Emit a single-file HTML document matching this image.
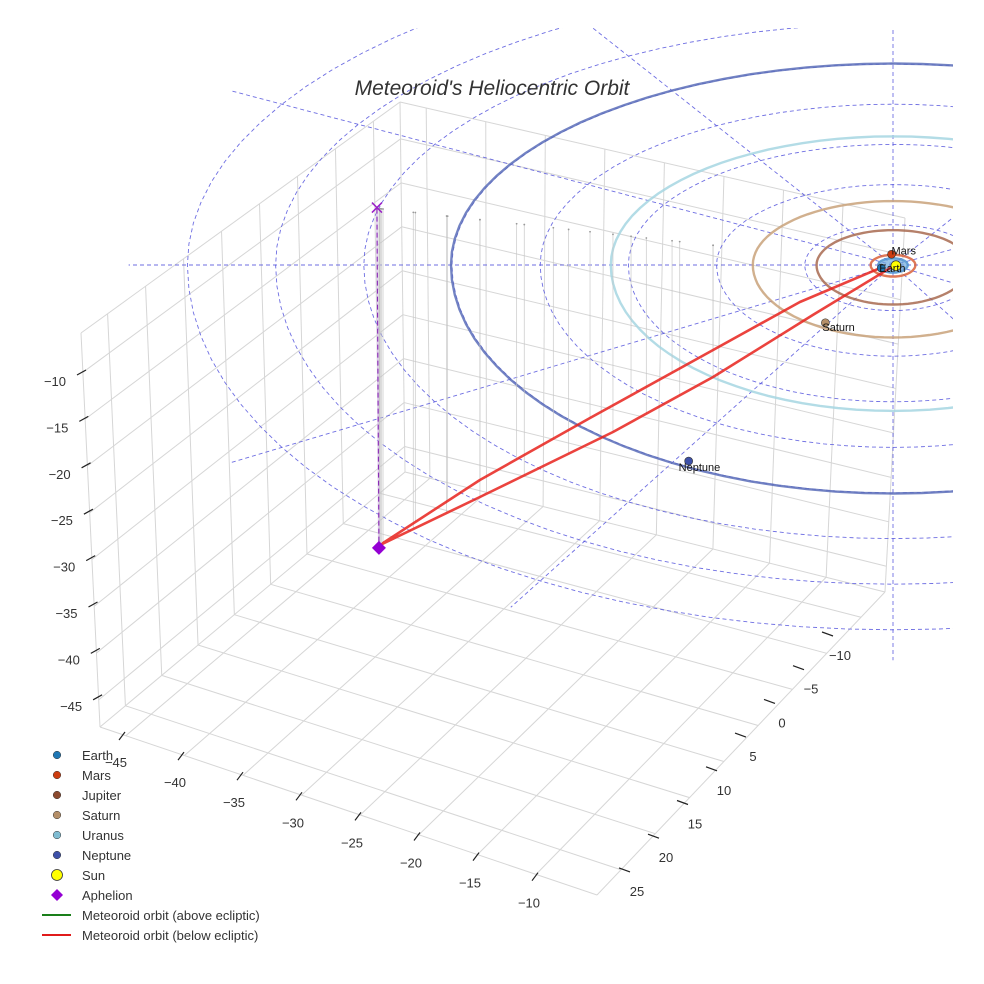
<!DOCTYPE html>
<html><head><meta charset="utf-8">
<style>
html,body{margin:0;padding:0;background:#fff;}
svg{display:block;font-family:"Liberation Sans",sans-serif;}
</style></head>
<body>
<svg id="chart" width="984" height="984" viewBox="0 0 984 984" xmlns="http://www.w3.org/2000/svg">
<defs><clipPath id="ecl"><rect x="0" y="28" width="953" height="956"/></clipPath></defs>
<g id="grid"></g>
<g id="ticks"></g>
<g id="eclip" clip-path="url(#ecl)"></g>
<g id="orbits" clip-path="url(#ecl)"></g>
<g id="met"></g>
<g id="planets" clip-path="url(#ecl)"></g>
<text x="492" y="95" text-anchor="middle" font-size="21" font-style="italic" fill="#333">Meteoroid's Heliocentric Orbit</text>
<g id="legend"></g>
</svg>
<script>
// ---- data ----
const xTicks = [-45,-40,-35,-30,-25,-20,-15,-10];
const yTicks = [-10,-5,0,5,10,15,20,25];
const zTicks = [-45,-40,-35,-30,-25,-20,-15,-10];
const planetNames = ["Earth","Mars","Jupiter","Saturn","Uranus","Neptune"];
const planetRadii = [1.0,1.52,5.2,9.54,19.2,30.07];
const planetX = [-0.8,-0.1,4.6,-4.6,19.0,-13.9];
const planetY = [0.4,-1.6,-2.4,7.6,-2.0,25.8];
const planetColors = ["#1f77b4","#cc3d10","#8b4a2e","#b58f68","#7fbcd2","#3d50a8"];
const orbitColors = ["#4a90d0","#d9603a","#a86a50","#c9a27a","#a6d6e2","#5a6db8"];
const labelledPlanets = ["Earth","Mars","Saturn","Neptune"];
const ringRadii = [6,12,18,24,30,36,42,48];
const radialAngles = [0,30,60,90,120,150,180,210,240,270,300,330];
// meteoroid orbit samples (AU): X, Y, Z
const metX = [-0.88,-6.33,-12.24,-20.61,-28.1,-34.69,-34.97,-34.9,-28.1,-19.05,-12.24,-5.44,0.14];
const metY = [-0.19,-1.5,-2.94,-4.96,-6.76,-8.36,-8.42,-8.4,-6.76,-4.58,-2.94,-1.3,0.04];
const metZ = [-0.46,-5.01,-11.14,-19.81,-27.69,-35.53,-36.1,-35.78,-29.5,-21.03,-14.01,-6.24,0.03];
const aphelion = [-34.97,-8.42,-36.1];

// ---- axes / projections ----
const NS="http://www.w3.org/2000/svg";
function mk(tag, attrs, parent){const e=document.createElementNS(NS,tag);for(const k in attrs)e.setAttribute(k,attrs[k]);parent.appendChild(e);return e;}
const XR=[-47.2,-4.8], YR=[-13.5,28.5], ZR=[-47.9,-5.8];
const A=[100,727], B=[597,895], C=[885,592], D=[405,472], Ap=[81,333], Dp=[400,102], Cp=[905,218];
function bil(p00,p10,p01,p11,u,v){return [(1-u)*(1-v)*p00[0]+u*(1-v)*p10[0]+(1-u)*v*p01[0]+u*v*p11[0],(1-u)*(1-v)*p00[1]+u*(1-v)*p10[1]+(1-u)*v*p01[1]+u*v*p11[1]];}
const nx=v=>(v-XR[0])/(XR[1]-XR[0]), ny=v=>(v-YR[0])/(YR[1]-YR[0]), nz=v=>(v-ZR[0])/(ZR[1]-ZR[0]);
const leftWall=(y,z)=>bil(D,A,Dp,Ap,ny(y),nz(z));
const backWall=(x,z)=>bil(D,C,Dp,Cp,nx(x),nz(z));
const floorP=(x,y)=>bil(D,C,A,B,nx(x),ny(y));
const gridG=document.getElementById('grid');
function gl(p,q,name){const l=mk('line',{x1:p[0],y1:p[1],x2:q[0],y2:q[1],stroke:'#d6d6d6','stroke-width':1},gridG);

}
gl(A,B,'floor-edge');gl(B,C,'floor-edge');gl(C,D,'floor-edge');gl(D,A,'floor-edge');
gl(A,Ap,'wall-edge');gl(Ap,Dp,'wall-edge');gl(Dp,Cp,'wall-edge');gl(D,Dp,'wall-edge');gl(C,Cp,'wall-edge');
xTicks.forEach(v=>{gl(floorP(v,YR[0]),floorP(v,YR[1]),'floor-gridline-x');gl(backWall(v,ZR[0]),backWall(v,ZR[1]),'back-gridline-x');});
yTicks.forEach(v=>{gl(floorP(XR[0],v),floorP(XR[1],v),'floor-gridline-y');gl(leftWall(v,ZR[0]),leftWall(v,ZR[1]),'left-gridline-y');});
zTicks.forEach(v=>{gl(leftWall(YR[0],v),leftWall(YR[1],v),'left-gridline-z');gl(backWall(XR[0],v),backWall(XR[1],v),'back-gridline-z');});

// tick labels
const tickG=document.getElementById('ticks');
const xLab=v=>[116+(v+45)/5*59,762+(v+45)/5*20.1];
const yLab=v=>[840+(v+10)/5*(-29),655+(v+10)/5*33.7];
const zLab=v=>[55+(v+10)/(-5)*2.3,381+(v+10)/(-5)*46.4];
function tick(pos,dx1,dy1,dx2,dy2,txt,name){
  const l=mk('line',{x1:pos[0]+dx1,y1:pos[1]+dy1,x2:pos[0]+dx2,y2:pos[1]+dy2,stroke:'#222','stroke-width':1.2},tickG);
  
  
  const t=mk('text',{x:pos[0],y:pos[1]+5,'text-anchor':'middle','font-size':13,fill:'#333'},tickG);
  t.textContent=txt;
  
  
}
const fmt=v=>v<0?'\u2212'+Math.abs(v):String(v);
xTicks.forEach(v=>tick(xLab(v),3,-22,9,-30,fmt(v),'x-tick'));
yTicks.forEach(v=>tick(yLab(v),-18,-23,-7,-19,fmt(v),'y-tick'));
zTicks.forEach(v=>tick(zLab(v),22,-6,31,-11,fmt(v),'z-tick'));

// ecliptic projection
const SX=893, SY=265, KX=14.7, KYN=6.7, KYP=7.6, KZ=9.4;
const ex=X=>SX+KX*X, ey=(Y,Z)=>SY+(Y>0?KYP:KYN)*Y-KZ*(Z||0);
function ringPath(r){let d='';for(let k=0;k<=96;k++){const t=k/96*2*Math.PI;d+=(k?'L':'M')+ex(r*Math.cos(t)).toFixed(1)+','+ey(r*Math.sin(t)).toFixed(1);}return d+'Z';}
const eg=document.getElementById('eclip');
ringRadii.forEach(r=>{const e=mk('path',{d:ringPath(r),fill:'none',stroke:'#5555dd','stroke-width':0.9,'stroke-dasharray':'4,3',opacity:0.85},eg);

});
radialAngles.forEach(a=>{const t=a*Math.PI/180,R=52;const l=mk('line',{x1:SX,y1:SY,x2:ex(R*Math.cos(t)),y2:ey(R*Math.sin(t)),stroke:'#5555dd','stroke-width':0.9,'stroke-dasharray':'4,3',opacity:0.85},eg);

});

// planet orbits
const og=document.getElementById('orbits');
planetRadii.forEach((r,i)=>{const e=mk('path',{d:ringPath(r),fill:i===0?'#6aa8dc':'none','fill-opacity':i===0?0.8:0,stroke:orbitColors[i],'stroke-width':2.4,opacity:0.85},og);

});

// meteoroid orbit
const mg=document.getElementById('met');
for(let i=0;i<metX.length-1;i++){
  for(let s=0;s<3;s++){const f=s/3;const X=metX[i]+(metX[i+1]-metX[i])*f,Y=metY[i]+(metY[i+1]-metY[i])*f,Z=metZ[i]+(metZ[i+1]-metZ[i])*f;
    if(X>-11)continue;
    const l=mk('line',{x1:ex(X),y1:ey(Y,Z),x2:ex(X),y2:ey(Y,0),stroke:'#c4c4c4','stroke-width':0.8,opacity:0.8},mg);
    
    
    const c=mk('circle',{cx:ex(X),cy:ey(Y,0),r:0.9,fill:'#999'},mg);
    
    }
}
const pts=metX.map((X,i)=>ex(X).toFixed(1)+','+ey(metY[i],metZ[i]).toFixed(1)).join(' ');
const pl=mk('polyline',{points:pts,fill:'none',stroke:'#e8221c','stroke-width':2.6,opacity:0.85,'stroke-linejoin':'round'},mg);


const ax=ex(aphelion[0]), ayTop=ey(aphelion[1],0), ayBot=ey(aphelion[1],aphelion[2]);
const vl=mk('line',{x1:ax-2,y1:ayTop,x2:ax,y2:ayBot,stroke:'#d8bfe8','stroke-width':2,opacity:0.7},mg);


const vd=mk('line',{x1:ax-2,y1:ayTop,x2:ax,y2:ayBot,stroke:'#8a2bb5','stroke-width':1.1,'stroke-dasharray':'5,3'},mg);


const xm=mk('path',{d:`M${ax-7},${ayTop-6}L${ax+3},${ayTop+4}M${ax+3},${ayTop-6}L${ax-7},${ayTop+4}`,stroke:'#9a1fc8','stroke-width':1.5,fill:'none'},mg);


const dm=mk('path',{d:`M${ax},${ayBot-7}L${ax+7},${ayBot}L${ax},${ayBot+7}L${ax-7},${ayBot}Z`,fill:'#9400d3'},mg);



// planets
const pg=document.getElementById('planets');
const sun=mk('circle',{cx:ex(0.2),cy:ey(0.1),r:5,fill:'#ffff00',stroke:'#333','stroke-width':0.7},pg);


planetNames.forEach((n,i)=>{
  const c=mk('circle',{cx:ex(planetX[i]),cy:ey(planetY[i]),r:4,fill:planetColors[i],stroke:'#333','stroke-width':0.6},pg);
  
  
});
planetNames.forEach((n,i)=>{
  if(labelledPlanets.includes(n)){
    const off={Earth:[-2,4],Mars:[0,0],Saturn:[-3,8],Neptune:[-10,10]}[n];
    const t=mk('text',{x:ex(planetX[i])+off[0],y:ey(planetY[i])+off[1],'font-size':11,fill:'#111'},pg);
    t.textContent=n;
    
    
  }
});

// legend
const legNames=["Earth","Mars","Jupiter","Saturn","Uranus","Neptune","Sun","Aphelion","Meteoroid orbit (above ecliptic)","Meteoroid orbit (below ecliptic)"];
const lg=document.getElementById('legend');
legNames.forEach((n,i)=>{
  const y=755+i*20;
  const g=mk('g',{},lg);
  
  
  if(i<6){mk('circle',{cx:57,cy:y,r:3.8,fill:planetColors[i],stroke:'#333','stroke-width':0.5},g);}
  else if(i===6){mk('circle',{cx:57,cy:y,r:5.5,fill:'#ffff00',stroke:'#333','stroke-width':0.8},g);}
  else if(i===7){mk('path',{d:`M57,${y-6}L63,${y}L57,${y+6}L51,${y}Z`,fill:'#9400d3'},g);}
  else {mk('line',{x1:42,y1:y,x2:71,y2:y,stroke:i===8?'#1a7f1a':'#e01b1b','stroke-width':2},g);}
  const t=mk('text',{x:82,y:y+5,'font-size':13,fill:'#333'},g);
  t.textContent=n;
});
</script>
</body></html>
